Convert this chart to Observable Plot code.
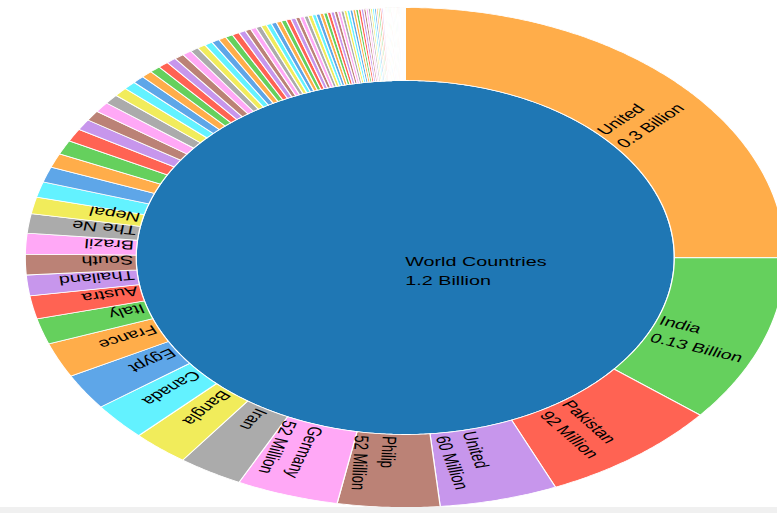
<!DOCTYPE html>
<html><head><meta charset="utf-8">
<script src="https://cdn.jsdelivr.net/npm/d3@7"></script>
<script src="https://cdn.jsdelivr.net/npm/@observablehq/plot@0.6"></script>
<style>
html,body{margin:0;padding:0;background:#fff;overflow:hidden;}
#chart svg{display:block;}
#bar{height:6px;background:#f0f0f0;}
</style></head><body>
<div id="chart"></div><div id="bar"></div>
<script>
// ---- data (populations in millions) ----
const rootName = "World Countries";
const rootValueText = "1.2 Billion";
const countryNames = ["United","India","Pakistan","United","Philip","Germany","Iran","Bangla","Canada","Egypt","France","Italy","Austra","Thailand","South","Brazil","The Ne","Nepal"];
const countryValues = [300,130,92,60,52,52,33,29,29,28,27,20,18,16,16,16,15,13];
const valueTexts = ["0.3 Billion","0.13 Billion","92 Million","60 Million","52 Million","52 Million"];
const otherValues = [12,12,11,11,10,8.5,8,8,7.5,7,6.5,6,5.7,5.5,5.3,5,5,4.7,
  4.3,4.2,4.1,4.0,3.9,3.8,3.7,3.5,
  3.0,2.9,2.8,2.8,2.7,2.7,2.6,2.6,2.5,2.5,
  2.2,2.2,2.1,2.1,2.0,2.0,1.9,1.9,1.8,1.8,
  1.7,1.6,1.6,1.5,1.5,1.5,1.4,1.4,1.4,1.3,
  1.2,1.1,1.1,1.0,1.0,1.0,0.9,0.9,0.9,0.8,
  0.6,0.6,0.5,0.5,0.5,0.5,0.5,0.4,0.4,0.4,
  0.3,0.3,0.3,0.3,0.3,0.3,0.3,0.3,0.25,0.25,0.25,0.25,0.25,0.25,0.25,
  0.1,0.1,0.1,0.1,0.1,0.1,0.1,0.1,0.1,0.1,0.1,0.1,0.1,0.1,0.1,0.1,0.1,0.1,0.1,0.1];
const palette = ["#ffad4a","#65d05d","#ff6353","#c796ec","#bb8276","#ffa8f6","#ababab","#f1ec5b","#63f2ff","#5ea6e8"];
const rootColor = "#1f77b4";

// ---- layout ----
const SX = 1.52, PAGE_W = 777, PAGE_H = 507;
const W = PAGE_W / SX, H = PAGE_H;
const CX = 404.5 / SX, CY = 257;
const R0 = 177, R1 = 250, R_LABEL = 179;
const LABEL_SHIFT = -6; // first line roughly centred on the slice's mid-line
const rad = d => d * Math.PI / 180;

const values = countryValues.concat(otherValues);
const total = d3.sum(values);
let acc = 0;
const slices = values.map((v, i) => {
  const a0 = acc / total * 360; acc += v; const a1 = acc / total * 360;
  return {i, a0, a1, color: palette[i % palette.length]};
});

const poly = [];
function arcPts(id, color, r, b0, b1) {
  const n = Math.max(1, Math.ceil(Math.abs(b1 - b0) / 0.5));
  for (let k = 0; k <= n; k++) {
    const a = b0 + (b1 - b0) * k / n;
    poly.push({id, color, x: r * Math.sin(rad(a)), y: r * Math.cos(rad(a))});
  }
}
arcPts("root", rootColor, R0, 0, 360);
for (const s of slices) {
  const id = "s" + s.i;
  arcPts(id, s.color, R1, s.a0, s.a1);
  arcPts(id, s.color, R0, s.a1, s.a0);
  poly.push({id, color: s.color, x: R1 * Math.sin(rad(s.a0)), y: R1 * Math.cos(rad(s.a0))});
}

const labels = countryNames.map((name, i) => {
  const s = slices[i];
  const m = rad((s.a0 + s.a1) / 2);
  return {
    text: valueTexts[i] ? name + "\n" + valueTexts[i] : name,
    x: R_LABEL * Math.sin(m) + LABEL_SHIFT * Math.cos(m),
    y: R_LABEL * Math.cos(m) - LABEL_SHIFT * Math.sin(m),
    rotate: (s.a0 + s.a1) / 2 - 90
  };
});

const chart = Plot.plot({
  width: W, height: H, margin: 0,
  x: {domain: [-CX, W - CX], range: [0, W], axis: null},
  y: {domain: [-(H - CY), CY], range: [H, 0], axis: null},
  color: {type: "identity"},
  style: {fontFamily: "'Liberation Sans', Arial, sans-serif", background: "#fff"},
  marks: [
    Plot.line(poly, {x: "x", y: "y", z: "id", fill: "color", stroke: "white", strokeWidth: 0.8, curve: "linear"}),
    Plot.text(labels, {x: "x", y: "y", text: "text", rotate: "rotate", textAnchor: "start", lineAnchor: "top", fontSize: 13, lineHeight: 1.4, fill: "#000"}),
    Plot.text([{x: 0, y: 0, t: rootName + "\n" + rootValueText}], {x: "x", y: "y", text: "t", textAnchor: "start", lineAnchor: "top", dy: -5, fontSize: 13, lineHeight: 1.45, fill: "#000"})
  ]
});
chart.setAttribute("preserveAspectRatio", "none");
chart.setAttribute("width", PAGE_W);
chart.setAttribute("height", PAGE_H);
chart.style.width = PAGE_W + "px";
chart.style.height = PAGE_H + "px";
chart.style.maxWidth = "none";
chart.style.overflow = "hidden";
document.getElementById("chart").appendChild(chart);
</script></body></html>
